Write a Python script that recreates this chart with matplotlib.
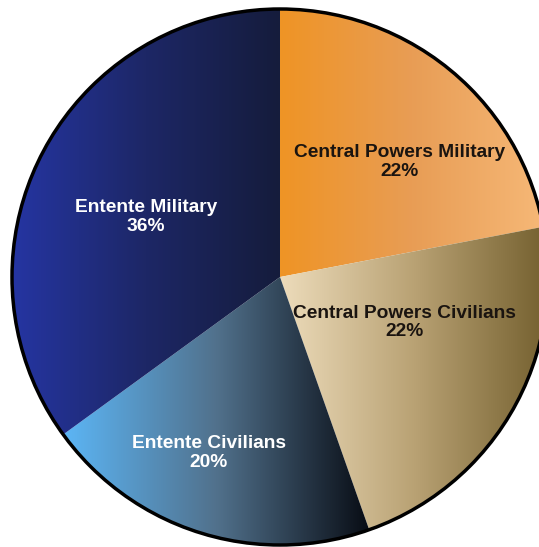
import numpy as np
import matplotlib.pyplot as plt
from matplotlib.colors import LinearSegmentedColormap
from matplotlib.patches import Circle

# casualty shares, clockwise from 12 o'clock (slice sizes)
labels = ["Central Powers Military", "Central Powers Civilians",
          "Entente Civilians", "Entente Military"]
shares = [22.0, 22.6, 20.4, 35.0]
pct_text = ["22%", "22%", "20%", "36%"]

# horizontal gradient stops per slice (left -> right)
gradients = [
    ["#EF9425", "#E89D55", "#F6B877"],
    ["#EDDCBB", "#B9A274", "#74602F"],
    ["#5CB6F6", "#51718C", "#080C14"],
    ["#2535A2", "#1D2766", "#151C3C"],
]
text_colors = ["#1a1410", "#1a1410", "white", "white"]
# label placement: (radius fraction, angle shift in degrees)
label_place = [(0.618, -6.4), (0.496, 9.9), (0.708, -4.7), (0.548, 2.9)]

fig = plt.figure(figsize=(5.39, 5.47), dpi=100)
ax = fig.add_axes([0, 0, 1, 1])

wedges, _ = ax.pie(shares, startangle=90, counterclock=False, radius=1.0,
                   wedgeprops=dict(linewidth=0, edgecolor="none"))
ax.set_aspect("equal")
ax.axis("off")

grad = np.linspace(0, 1, 256).reshape(1, -1)
for w, stops in zip(wedges, gradients):
    w.set_facecolor("none")
    bb = w.get_path().get_extents(w.get_patch_transform())
    cmap = LinearSegmentedColormap.from_list("g", stops)
    im = ax.imshow(grad, cmap=cmap, aspect="auto",
                   extent=(bb.x0, bb.x1, bb.y0, bb.y1),
                   interpolation="bicubic", zorder=1)
    im.set_clip_path(w)

# pie centre sits at (280, 277) px, radius 268 px
ax.set_xlim(-280 / 268, 259 / 268)
ax.set_ylim(-270 / 268, 277 / 268)

ax.add_patch(Circle((0, 0), 1.0, facecolor="none", edgecolor="black",
                    linewidth=2.5, zorder=3))

for w, lab, p, col, (rf, dth) in zip(wedges, labels, pct_text, text_colors, label_place):
    mid = np.deg2rad((w.theta1 + w.theta2) / 2 + dth)
    ax.text(rf * np.cos(mid), rf * np.sin(mid), f"{lab}\n{p}",
            ha="center", va="center", color=col, fontsize=13.8,
            fontweight="bold", family="Liberation Sans", linespacing=1.1,
            zorder=4)

fig.savefig("out.png", dpi=100)
